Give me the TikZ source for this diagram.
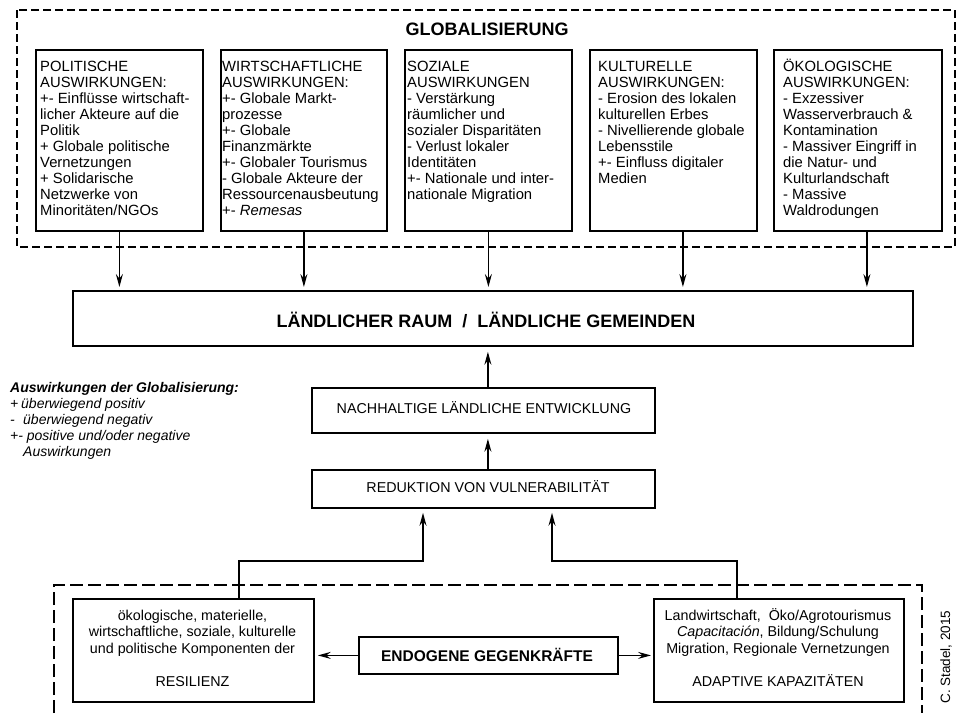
\documentclass[tikz,border=0pt]{standalone}
\usepackage{fontspec}
\setmainfont{Liberation Sans}
\usetikzlibrary{arrows.meta,calc}
\begin{document}
\begin{tikzpicture}[x=1pt,y=-1pt,
  bx/.style={draw, line width=1.8pt, inner sep=0pt, anchor=north west},
  txt/.style={inner sep=0pt, align=left, anchor=north west, font=\fontsize{14.8}{16}\selectfont},
  ctxt/.style={inner sep=0pt, align=center, anchor=north, font=\fontsize{14.3}{16.5}\selectfont},
  arr/.style={line width=1.3pt, -{Stealth[length=13pt,width=7pt,inset=4.5pt]}},
  framedash/.style={line width=1.4pt, dash pattern=on 8pt off 4pt},
  framedashb/.style={line width=2.3pt, dash pattern=on 13pt off 5pt},
]
\useasboundingbox (0,0) rectangle (958,713);

% top dashed frame
\draw[framedash] (17,10) rectangle (955,247);
\node[font=\bfseries\fontsize{18}{20}\selectfont, anchor=base, inner sep=0pt] (title) at (487,35) {GLOBALISIERUNG};

% five boxes
\node[bx, minimum width=167pt, minimum height=181pt] (b1) at (35,49) {};
\node[bx, minimum width=166pt, minimum height=181pt] (b2) at (220,49) {};
\node[bx, minimum width=167pt, minimum height=181pt] (b3) at (404,49) {};
\node[bx, minimum width=167pt, minimum height=181pt] (b4) at (589,49) {};
\node[bx, minimum width=168pt, minimum height=181pt] (b5) at (773,49) {};

\node[txt] (t1) at (40,57) {\rule{0pt}{14pt}POLITISCHE\\AUSWIRKUNGEN:\\+- Einflüsse wirtschaft-\\licher Akteure auf die\\Politik\\+ Globale politische\\Vernetzungen\\+ Solidarische\\Netzwerke von\\Minoritäten/NGOs};
\node[txt] (t2) at (222,57) {\rule{0pt}{14pt}WIRTSCHAFTLICHE\\AUSWIRKUNGEN:\\+- Globale Markt-\\prozesse\\+- Globale\\Finanzmärkte\\+- Globaler Tourismus\\- Globale Akteure der\\Ressourcenausbeutung\\+- \textit{Remesas}};
\node[txt] (t3) at (407,57) {\rule{0pt}{14pt}SOZIALE\\AUSWIRKUNGEN\\- Verstärkung\\räumlicher und\\sozialer Disparitäten\\- Verlust lokaler\\Identitäten\\+- Nationale und inter-\\nationale Migration};
\node[txt] (t4) at (598,57) {\rule{0pt}{14pt}KULTURELLE\\AUSWIRKUNGEN:\\- Erosion des lokalen\\kulturellen Erbes\\- Nivellierende globale\\Lebensstile\\+- Einfluss digitaler\\Medien};
\node[txt] (t5) at (783,57) {\rule{0pt}{14pt}ÖKOLOGISCHE\\AUSWIRKUNGEN:\\- Exzessiver\\Wasserverbrauch \&\\Kontamination\\- Massiver Eingriff in\\die Natur- und\\Kulturlandschaft\\- Massive\\Waldrodungen};

% central box
\node[bx, minimum width=840pt, minimum height=55pt] (big) at (72,290) {};
\node[font=\bfseries\fontsize{18}{20}\selectfont, anchor=base, inner sep=0pt] (bigt) at (486,327) {LÄNDLICHER RAUM\hspace{10pt}/\hspace{10pt}LÄNDLICHE GEMEINDEN};

\draw[arr, shorten >=3pt] (b1.south) -- (b1.south |- big.north);
\draw[arr, shorten >=3pt] (b2.south) -- (b2.south |- big.north);
\draw[arr, shorten >=3pt] (b3.south) -- (b3.south |- big.north);
\draw[arr, shorten >=3pt] ([xshift=9.5pt]b4.south) -- ([xshift=9.5pt]b4.south |- big.north);
\draw[arr, shorten >=3pt] ([xshift=9pt]b5.south) -- ([xshift=9pt]b5.south |- big.north);

% legend
\node[txt, font=\itshape\fontsize{14}{16}\selectfont] (leg) at (10,378) {\rule{0pt}{14pt}\textbf{Auswirkungen der Globalisierung:}\\\makebox[11pt][l]{+}überwiegend positiv\\\makebox[13pt][l]{-}überwiegend negativ\\+- positive und/oder negative\\\hspace*{13pt}Auswirkungen};

% middle chain
\node[bx, minimum width=343pt, minimum height=45pt] (nach) at (311,387) {};
\node[font=\fontsize{14.3}{16}\selectfont, anchor=base, inner sep=0pt] (nacht) at (484,413) {NACHHALTIGE LÄNDLICHE ENTWICKLUNG};
\node[bx, minimum width=343pt, minimum height=38pt] (red) at (311,469) {};
\node[font=\fontsize{14.3}{16}\selectfont, anchor=base, inner sep=0pt] (redt) at (488,492) {REDUKTION VON VULNERABILITÄT};

\draw[arr, shorten >=5pt] ([xshift=4.5pt]nach.north) -- ([xshift=4.5pt]nach.north |- big.south);
\draw[arr, shorten >=5pt] ([xshift=4.5pt]red.north) -- ([xshift=4.5pt]red.north |- nach.south);

% bottom dashed frame
\draw[framedashb] (54,713) -- (54,585) -- (922,585) -- (922,713);

\node[bx, minimum width=241pt, minimum height=103pt] (res) at (72,598) {};
\node[ctxt] (rest) at (192.5,606) {\rule{0pt}{14pt}ökologische, materielle,\\wirtschaftliche, soziale, kulturelle\\und politische Komponenten der\\[16.5pt]RESILIENZ};
\node[bx, minimum width=259pt, minimum height=37pt] (endo) at (358,636) {};
\node[font=\bfseries\fontsize{15.5}{18}\selectfont, anchor=base, inner sep=0pt] (endot) at (487,661) {ENDOGENE GEGENKRÄFTE};
\node[bx, minimum width=250pt, minimum height=103pt] (adap) at (653,598) {};
\node[ctxt] (adapt) at (778,606) {\rule{0pt}{14pt}Landwirtschaft,\hspace{4pt} Öko/Agrotourismus\\\textit{Capacitación}, Bildung/Schulung\\Migration, Regionale Vernetzungen\\[16.5pt]ADAPTIVE KAPAZITÄTEN};

\draw[arr, shorten >=3pt] (endo.west) -- (res.east |- endo.west);
\draw[arr, shorten >=2pt] (endo.east) -- (adap.west |- endo.east);

\coordinate (k1) at (239,561);
\coordinate (k2) at (423,561);
\coordinate (k3) at (737,561);
\coordinate (k4) at (552,561);
\draw[arr, shorten >=4pt] (res.north -| k1) -- (k1) -- (k2) -- (red.south -| k2);
\draw[arr, shorten >=4pt] (adap.north -| k3) -- (k3) -- (k4) -- (red.south -| k4);

\node[rotate=90, font=\fontsize{13.5}{16}\selectfont, inner sep=0pt] (stadel) at (946,657) {C. Stadel, 2015};
\end{tikzpicture}
\end{document}
